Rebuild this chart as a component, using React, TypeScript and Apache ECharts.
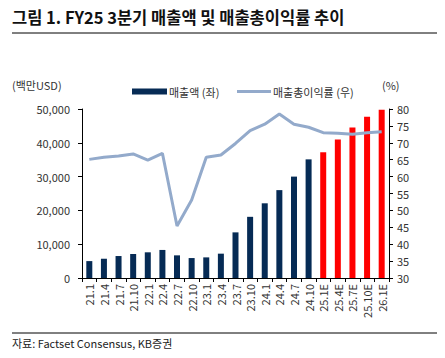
import React, { useEffect, useRef } from "react";
import * as echarts from "echarts";

const categories = ["21.1","21.4","21.7","21.10","22.1","22.4","22.7","22.10","23.1","23.4","23.7","23.10","24.1","24.4","24.7","24.10","25.1E","25.4E","25.7E","25.10E","26.1E"];
const revenue = [5000,5700,6500,7100,7600,8300,6700,5900,6100,7200,13500,18100,22100,26000,30000,35100,37200,41000,44500,47700,49800];
const isEstimate = [false,false,false,false,false,false,false,false,false,false,false,false,false,false,false,false,true,true,true,true,true];
const grossMargin = [65.1,65.7,66.1,66.7,64.9,66.9,45.4,53.1,65.7,66.4,69.8,73.6,75.5,78.5,75.5,74.6,73.0,72.8,72.5,73.0,73.3];
const leftTicks = { min: 0, max: 50000, interval: 10000 };
const rightTicks = { min: 30, max: 80, interval: 5 };

const FONT = "'Noto Sans CJK KR', 'Noto Sans', sans-serif";
const NAVY = "#062b55";
const RED = "#ff0000";
const LINE = "#93aacb";
const TXT = "#333333";

export default function App() {
  const ref = useRef<HTMLDivElement>(null);
  useEffect(() => {
    document.body.style.margin = "0";
    const chart = echarts.init(ref.current!, null, { renderer: "svg" });
    chart.setOption({
      animation: false,
      textStyle: { fontFamily: FONT },
      grid: { left: 82, right: 56, top: 109, bottom: 80 },
      legend: [
        {
          data: [{ name: "매출액 (좌)", icon: "rect" }],
          left: 127, top: 81, itemWidth: 35, itemHeight: 6, itemGap: 2,
          textStyle: { fontFamily: FONT, fontSize: 11, color: TXT, padding: [0, 0, 0, -3] },
        },
        {
          data: [{ name: "매출총이익률 (우)", icon: "rect" }],
          left: 232, top: 81, itemWidth: 34, itemHeight: 3,
          textStyle: { fontFamily: FONT, fontSize: 11, color: TXT, padding: [0, 0, 0, -3] },
        },
      ],
      xAxis: {
        type: "category",
        data: categories,
        axisLine: { lineStyle: { color: "#000", width: 1 } },
        axisTick: { show: true, alignWithLabel: false, length: 4, lineStyle: { color: "#000" } },
        axisLabel: { rotate: 90, interval: 0, fontSize: 11, color: TXT, fontFamily: FONT, margin: 6 },
      },
      yAxis: [
        {
          type: "value", ...leftTicks,
          splitLine: { show: false },
          axisLine: { show: true, lineStyle: { color: "#000" } },
          axisTick: { show: true, length: 4, lineStyle: { color: "#000" } },
          axisLabel: {
            fontSize: 11, color: TXT, fontFamily: FONT, margin: 12,
            formatter: (v: number) => v.toLocaleString("en-US"),
          },
        },
        {
          type: "value", ...rightTicks,
          splitLine: { show: false },
          axisLine: { show: true, lineStyle: { color: "#000" } },
          axisTick: { show: true, length: 4, lineStyle: { color: "#000" } },
          axisLabel: { fontSize: 11, color: TXT, fontFamily: FONT, margin: 8 },
        },
      ],
      series: [
        {
          name: "매출액 (좌)",
          type: "bar",
          barWidth: 6,
          itemStyle: { color: NAVY },
          data: revenue.map((v, i) => ({ value: v, itemStyle: { color: isEstimate[i] ? RED : NAVY } })),
        },
        {
          name: "매출총이익률 (우)",
          type: "line",
          yAxisIndex: 1,
          symbol: "none",
          itemStyle: { color: LINE },
          lineStyle: { color: LINE, width: 3 },
          data: grossMargin,
          z: 3,
        },
      ],
      graphic: [
        { type: "text", left: 12, top: 9, style: { text: "그림 1. FY25 3분기 매출액 및 매출총이익률 추이", font: `bold 16.5px ${FONT}`, fill: "#111" } },
        { type: "line", shape: { x1: 12, y1: 33, x2: 437, y2: 33 }, style: { stroke: "#000", lineWidth: 1 } },
        { type: "text", left: 12, top: 79, style: { text: "(백만USD)", font: `11px ${FONT}`, fill: TXT } },
        { type: "text", left: 382, top: 79, style: { text: "(%)", font: `11px ${FONT}`, fill: TXT } },
        { type: "line", shape: { x1: 12, y1: 333, x2: 437, y2: 333 }, style: { stroke: "#000", lineWidth: 1 } },
        { type: "text", left: 12, top: 337, style: { text: "자료: Factset Consensus, KB증권", font: `11px ${FONT}`, fill: "#222" } },
      ],
    });
    return () => chart.dispose();
  }, []);
  return <div ref={ref} style={{ width: 445, height: 358 }} />;
}
